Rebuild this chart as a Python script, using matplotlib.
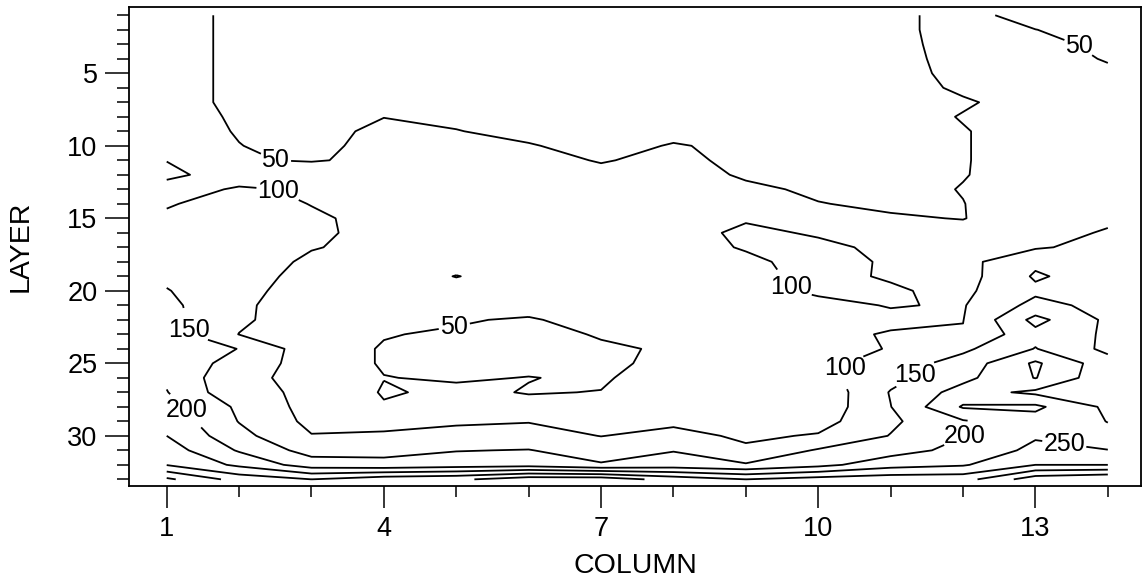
import numpy as np
import matplotlib
matplotlib.use('Agg')
import matplotlib.pyplot as plt
from matplotlib.ticker import MultipleLocator

plt.rcParams['font.family'] = ['Liberation Sans', 'DejaVu Sans']

columns = np.arange(1, 15)
layers = np.arange(1, 34)

# concentration per layer (top to bottom), one value per column 1..14
conc = np.array([
    [68, 40, 30, 35, 35, 35, 38, 38, 38, 40, 42, 62, 35, 30],
    [68, 40, 30, 35, 35, 35, 38, 38, 38, 40, 42, 62, 50.5, 35],
    [68, 40, 30, 35, 35, 35, 38, 38, 38, 40, 42, 60, 60, 42],
    [68, 40, 30, 35, 35, 35, 38, 38, 38, 40, 42, 58, 62, 48],
    [68, 40, 30, 35, 35, 35, 38, 38, 38, 40, 42, 56, 64, 55],
    [68, 40, 30, 35, 35, 35, 38, 38, 38, 40, 42, 53, 60, 60],
    [68, 40, 30, 35, 35, 35, 38, 38, 38, 40, 42, 48, 57, 62],
    [70, 44, 30, 49, 44, 35, 38, 38, 38, 40, 42, 51, 58, 64],
    [72, 47, 30, 63, 51, 42, 38, 42, 38, 40, 42, 49, 58, 66],
    [75, 51, 35, 68, 58, 52, 40, 52, 44, 40, 42, 49, 58, 68],
    [99, 52, 48, 56, 64, 60, 48, 58, 42, 40, 42, 49, 58, 70],
    [110, 79, 68, 60, 68, 66, 58, 64, 46, 40, 42, 49, 60, 73],
    [81, 105, 95, 70, 70, 70, 64, 68, 56, 45, 42, 51, 62, 76],
    [97, 115, 99, 80, 72, 72, 68, 72, 65, 51, 45, 49.5, 65, 80],
    [106, 122, 105, 90, 72, 72, 70, 78, 97, 65, 53, 49, 70, 90],
    [115, 128, 106, 90, 70, 70, 70, 88, 106, 97, 70, 60, 80, 105],
    [124, 132, 103, 85, 68, 68, 70, 90, 102, 106, 94, 80, 95, 115],
    [133, 130, 90, 75, 62, 66, 70, 82, 95, 109, 97, 85, 140, 120],
    [142, 125, 80, 68, 49, 65, 70, 76, 92, 108, 97, 80, 156, 125],
    [152, 120, 69, 64, 62, 68, 70, 72, 88, 106, 104, 91, 140, 130],
    [161, 112, 63, 62, 62, 70, 70, 70, 82, 90, 102, 97, 165, 135],
    [166, 108, 72, 60, 54, 45, 70, 65, 80, 88, 92, 99, 215, 140],
    [175, 99, 70, 52, 45, 38, 53, 60, 78, 90, 103, 103, 185, 143],
    [178, 149, 71, 47, 40, 36, 45, 54, 75, 85, 102, 140, 202, 138],
    [185, 130, 78, 46, 40, 40, 42, 60, 72, 85, 123, 171, 258, 170],
    [192, 110, 88, 51, 46, 51, 45, 72, 70, 83, 135, 187, 252, 165],
    [202, 111, 93, 46, 58, 48, 51, 70, 68, 62, 153, 220, 190, 175],
    [218, 141, 82, 54, 66, 62, 68, 78, 72, 66, 149, 255, 260, 190],
    [234, 148, 88, 75, 95, 98, 85, 90, 80, 82, 141, 195, 230, 199],
    [250, 165, 102, 111, 112, 118, 99, 115, 92, 104, 152, 199, 245, 210],
    [274, 195, 130, 135, 148, 152, 125, 148, 108, 155, 180, 215, 262, 252],
    [298, 240, 175, 165, 175, 180, 155, 170, 155, 185, 230, 245, 300, 300],
    [410, 330, 300, 330, 340, 380, 380, 330, 300, 320, 330, 330, 430, 450],
])

levels = np.arange(50, 501, 50)
labelled = levels[:5]

# where the level numbers sit along their lines
label_spots = [
    (2.5, 11.1), (13.55, 3.55), (4.98, 22.7),
    (2.5, 13.6), (9.6, 19.9), (10.37, 25.3),
    (1.33, 22.7), (11.37, 26.0),
    (1.3, 28.1), (12.2, 30.6),
    (13.4, 30.5),
]

fig = plt.figure(figsize=(11.44, 5.79), dpi=100)
ax = fig.add_axes([0.1130, 0.1606, 0.8843, 0.8273])

X, Y = np.meshgrid(columns, layers)
cs = ax.contour(X, Y, conc, levels=levels, colors='black', linewidths=1.3)

ax.clabel(cs, levels=labelled, fmt='%d', fontsize=18, inline=True,
          inline_spacing=3, manual=label_spots)
for t in ax.texts:
    t.set_rotation(0)

ax.set_xlim(0.483, 14.457)
ax.set_ylim(33.46, 0.43)

ax.set_xticks([1, 4, 7, 10, 13])
ax.xaxis.set_minor_locator(MultipleLocator(1))
ax.set_yticks([5, 10, 15, 20, 25, 30])
ax.yaxis.set_minor_locator(MultipleLocator(1))

ax.tick_params(axis='x', which='major', length=15.8, width=1.1, labelsize=19.5, pad=5.5)
ax.tick_params(axis='x', which='minor', length=7.9, width=1.1)
ax.tick_params(axis='y', which='major', length=17.3, width=1.1, labelsize=19.5, pad=5.5)
ax.tick_params(axis='y', which='minor', length=8.6, width=1.1)

for sp in ax.spines.values():
    sp.set_linewidth(1.3)

ax.set_xlabel('COLUMN', fontsize=20.5, labelpad=8)
ax.set_ylabel('LAYER', fontsize=20.5, labelpad=24)

fig.savefig('out.png', dpi=100)
